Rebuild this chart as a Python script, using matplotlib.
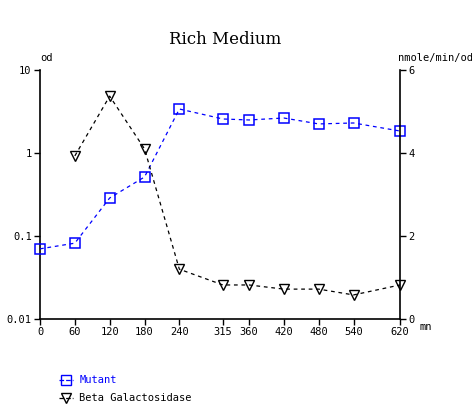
import matplotlib
matplotlib.use("Agg")
import matplotlib.pyplot as plt
import numpy as np
from matplotlib.lines import Line2D

minutes = [0, 60, 120, 180, 240, 315, 360, 420, 480, 540, 620]
mutant_od = [0.07, 0.082, 0.287, 0.514, 3.39, 2.57, 2.5, 2.64, 2.24, 2.3, 1.84]
beta_minutes = [60, 120, 180, 240, 315, 360, 420, 480, 540, 620]
beta_gal = [3.93, 5.37, 4.1, 1.2, 0.82, 0.82, 0.72, 0.72, 0.58, 0.82]
x_ticks = [0, 60, 120, 180, 240, 315, 360, 420, 480, 540, 620]
left_ticks = [0.01, 0.1, 1, 10]
left_labels = ["0.01", "0.1", "1", "10"]
right_ticks = [0, 2, 4, 6]

plt.rcParams['font.family'] = 'DejaVu Sans Mono'
fs = 7.5

fig = plt.figure(figsize=(4.72, 4.05), dpi=100)
ax = fig.add_axes([40/472, 1-319/405, 360/472, 249/405])
ax2 = ax.twinx()

ax.plot(minutes, mutant_od, color='blue', linestyle=(0, (3, 3)), linewidth=0.9,
        marker='s', markersize=7, markerfacecolor='none', markeredgecolor='blue',
        markeredgewidth=1.1, clip_on=False, zorder=3)
ax2.plot(beta_minutes, beta_gal, color='black', linestyle=(0, (3, 3)), linewidth=0.9,
         marker='v', markersize=7, markerfacecolor='none', markeredgecolor='black',
         markeredgewidth=1.0, clip_on=False)

ax.set_yscale('log')
ax.set_ylim(0.01, 10)
ax.set_xlim(0, 620)
ax.set_yticks(left_ticks)
ax.set_yticklabels(left_labels)
ax.yaxis.set_minor_locator(matplotlib.ticker.NullLocator())
ax.set_xticks(x_ticks)
ax.set_xticklabels([str(t) for t in x_ticks])
ax2.set_ylim(0, 6)
ax2.set_yticks(right_ticks)
ax2.set_yticklabels([str(t) for t in right_ticks])

for a in (ax, ax2):
    a.spines['top'].set_visible(False)
    a.tick_params(labelsize=fs, length=4, width=1, direction='out', pad=2)
    for s in a.spines.values():
        s.set_linewidth(1.2)
ax2.spines['left'].set_visible(False)
ax2.spines['bottom'].set_visible(False)
ax.spines['right'].set_visible(False)

fig.text(225/472, 1-40/405, "Rich Medium", ha='center', va='center',
         fontsize=12, family='DejaVu Serif', fontweight='light')
fig.text(40/472, 1-58/405, "od", ha='left', va='center', fontsize=fs)
fig.text(398/472, 1-58/405, "nmole/min/od", ha='left', va='center', fontsize=fs)
fig.text(420/472, 1-327/405, "mn", ha='left', va='center', fontsize=fs)

handles = [Line2D([], [], color='blue', linestyle='--', linewidth=0.9, marker='s',
                  markersize=7, markerfacecolor='none', markeredgecolor='blue'),
           Line2D([], [], color='black', linestyle='--', linewidth=0.9, marker='v',
                  markersize=7, markerfacecolor='none', markeredgecolor='black')]
leg = fig.legend(handles, ["Mutant", "Beta Galactosidase"], loc='upper left',
                 bbox_to_anchor=(50/472, 1-366/405), frameon=False, fontsize=fs,
                 handlelength=1.3, handletextpad=0.6, labelspacing=0.75)
leg.get_texts()[0].set_color('blue')

plt.savefig("out.png", dpi=100)
